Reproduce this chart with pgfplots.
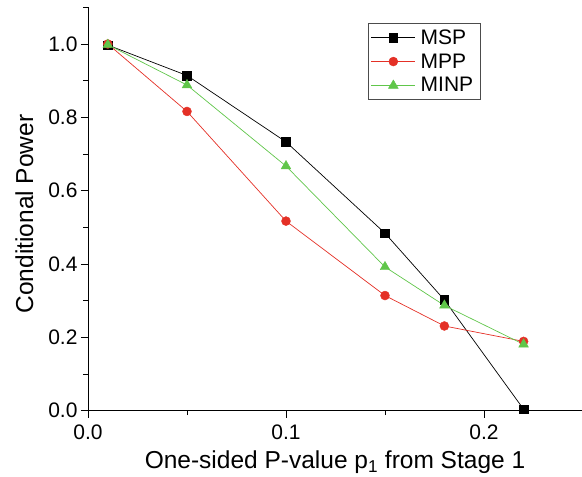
\documentclass[border=0pt]{standalone}
\usepackage{fontspec}
\setmainfont{Liberation Sans}
\usepackage{pgfplots}
\pgfplotsset{compat=1.18}
\definecolor{cpred}{RGB}{228,48,38}
\definecolor{cpgreen}{RGB}{96,198,74}

\begin{document}
\begin{tikzpicture}
\begin{axis}[
  name=ax,
  scale only axis,
  width=494bp, height=403.4bp,
  xmin=0, xmax=0.2495, ymin=0, ymax=1.1,
  axis x line*=bottom, axis y line*=left,
  axis line style={line width=0.9bp},
  tick align=outside,
  major tick length=7bp, minor tick length=4.5bp,
  every tick/.style={black, line width=0.9bp},
  xtick={0,0.1,0.2}, minor xtick={0.05,0.15},
  ytick={0,0.2,0.4,0.6,0.8,1.0}, minor ytick={0.1,0.3,0.5,0.7,0.9,1.1},
  /pgf/number format/.cd, fixed, fixed zerofill, precision=1, assume math mode=true, /pgfplots/.cd,
  tick label style={font=\fontsize{21bp}{24bp}\selectfont},
  xticklabel style={yshift=-3.5bp},
  xlabel={One-sided P-value p\textsubscript{1} from Stage 1},
  ylabel={Conditional Power},
  label style={font=\fontsize{24.5bp}{28bp}\selectfont},
  xlabel style={at={(axis description cs:0.5,-0.1445)}, anchor=base},
  ylabel style={at={(axis description cs:-0.1113,0.4876)}, anchor=base},
  legend style={at={(rel axis cs:0.567,0.961)}, anchor=north west,
    draw=black!70, line width=0.8bp, font=\fontsize{21bp}{22bp}\selectfont,
    inner xsep=2.5bp, inner ysep=5bp, row sep=6bp,
    nodes={inner xsep=5bp, inner ysep=1bp}},
  legend cell align=left,
  legend image code/.code={\draw[mark repeat=2, mark phase=2, #1]
    plot coordinates {(0bp,0bp) (22bp,0bp) (44bp,0bp)};},
  clip=false,
]
\addplot[black, line width=0.7bp, mark=square*, mark size=4.3bp,
  mark options={fill=black, line width=0.4bp}] coordinates
{(0.01,0.997) (0.05,0.914) (0.1,0.733) (0.15,0.484) (0.18,0.302) (0.22,0.004)};
\addlegendentry{MSP}
\addplot[cpred, line width=0.7bp, mark=*, mark size=4.5bp,
  mark options={fill=cpred, line width=0.4bp}] coordinates
{(0.01,1.0) (0.05,0.816) (0.1,0.517) (0.15,0.314) (0.18,0.231) (0.22,0.189)};
\addlegendentry{MPP}
\addplot[cpgreen, line width=0.7bp, mark=triangle*, mark size=5.6bp,
  mark options={fill=cpgreen, line width=0.4bp}] coordinates
{(0.01,0.998) (0.05,0.888) (0.1,0.667) (0.15,0.392) (0.18,0.287) (0.22,0.181)};
\addlegendentry{MINP}
\end{axis}
\pgfresetboundingbox
\path ([shift={(-88bp,-66.3bp)}]ax.south west) rectangle ([shift={(0bp,7.3bp)}]ax.north east);
\end{tikzpicture}
\end{document}
